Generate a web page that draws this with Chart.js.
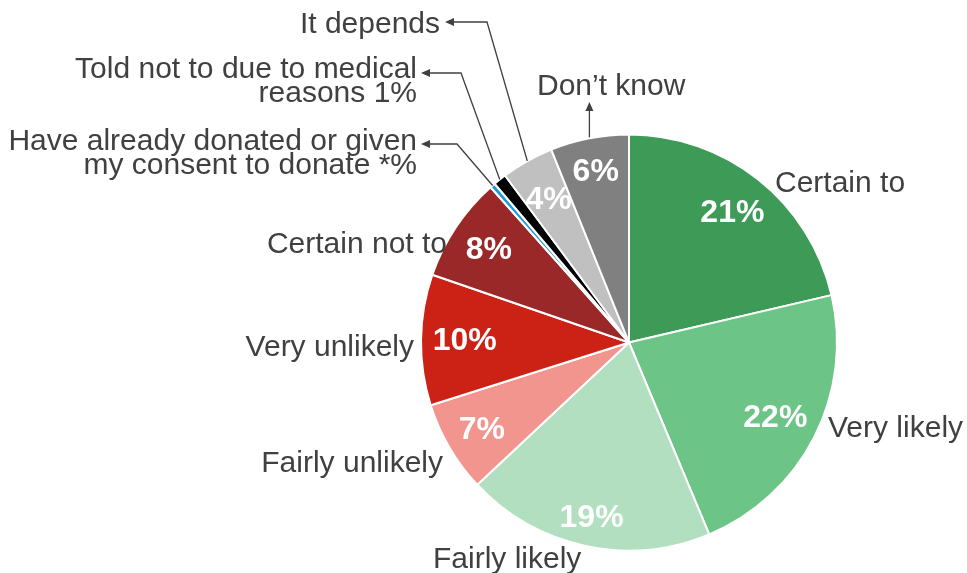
<!DOCTYPE html>
<html>
<head>
<meta charset="utf-8">
<title>Organ donation intentions</title>
<script src="https://cdn.jsdelivr.net/npm/chart.js@4.4.1/dist/chart.umd.min.js"></script>
<style>
  html, body { margin: 0; padding: 0; background: #ffffff; }
  #wrap { width: 967px; height: 573px; }
</style>
</head>
<body>
<div id="wrap"><canvas id="donationPie" width="967" height="573"></canvas></div>
<script>
// Answer categories, clockwise from 12 o'clock
const categories = [
    ['Certain to'],
    ['Very likely'],
    ['Fairly likely'],
    ['Fairly unlikely'],
    ['Very unlikely'],
    ['Certain not to'],
    ['Have already donated or given', 'my consent to donate *%'],
    ['Told not to due to medical', 'reasons 1%'],
    ['It depends'],
    ['Don\u2019t know']
];
// Share of respondents (%); "*" is below half a percent
const shares = [21, 22, 19, 7, 10, 8, 0.4, 1, 4, 6];
const sliceColors = ['#3e9a57', '#6cc486', '#b1dfbf', '#f2958e', '#cc2216', '#9a2829', '#1e9bd7', '#000000', '#c0c0c0', '#808080'];

// where the white percentage sits, as a fraction of the radius
const valueRadius = [0.80, 0.79, 0.86, 0.82, 0.79, 0.81, 0, 0, 0.79, 0.84];

// category text placement: x/y is the first baseline
const labelSpots = [
    { x: 775, y: 192, align: 'left' },
    { x: 828, y: 437, align: 'left' },
    { x: 433, y: 568, align: 'left' },
    { x: 443, y: 472, align: 'right' },
    { x: 414, y: 356, align: 'right' },
    { x: 447, y: 253, align: 'right' },
    { x: 417, y: 150, align: 'right', elbow: [457, 144], tip: [421, 144] },
    { x: 417, y: 78, align: 'right', elbow: [461, 73], tip: [421, 73] },
    { x: 440, y: 33, align: 'right', elbow: [487, 22], tip: [445, 22] },
    { x: 537, y: 95, align: 'left', upTo: 102 }
];

const FONT = '"Liberation Sans", Arial, Helvetica, sans-serif';
const TEXT_COLOR = '#404040';

function arrowHead(ctx, fromX, fromY, tipX, tipY) {
    const ang = Math.atan2(tipY - fromY, tipX - fromX);
    const len = 9, half = 4;
    ctx.beginPath();
    ctx.moveTo(tipX, tipY);
    ctx.lineTo(tipX - len * Math.cos(ang) + half * Math.sin(ang), tipY - len * Math.sin(ang) - half * Math.cos(ang));
    ctx.lineTo(tipX - len * Math.cos(ang) - half * Math.sin(ang), tipY - len * Math.sin(ang) + half * Math.cos(ang));
    ctx.closePath();
    ctx.fill();
}

const pieLabels = {
    id: 'pieLabels',
    afterDatasetsDraw(chart) {
        const ctx = chart.ctx;
        const meta = chart.getDatasetMeta(0);
        ctx.save();

        meta.data.forEach((arc, i) => {
            const { x, y, startAngle, endAngle, outerRadius } =
                arc.getProps(['x', 'y', 'startAngle', 'endAngle', 'outerRadius'], true);
            const mid = (startAngle + endAngle) / 2;
            const v = shares[i];

            // value inside the slice
            if (v >= 2) {
                const r = outerRadius * valueRadius[i];
                ctx.font = 'bold 32px ' + FONT;
                ctx.fillStyle = '#ffffff';
                ctx.textAlign = 'center';
                ctx.textBaseline = 'middle';
                ctx.fillText(v + '%', x + Math.cos(mid) * r, y + Math.sin(mid) * r + 1);
            }

            // category text
            const spot = labelSpots[i];
            ctx.font = '30px ' + FONT;
            ctx.fillStyle = TEXT_COLOR;
            ctx.textAlign = spot.align;
            ctx.textBaseline = 'alphabetic';
            categories[i].forEach((line, k) => {
                ctx.fillText(line, spot.x, spot.y + k * 24);
            });

            // leader lines with arrows pointing at the text
            ctx.strokeStyle = TEXT_COLOR;
            ctx.lineWidth = 1.3;
            const ex = x + Math.cos(mid) * outerRadius;
            const ey = y + Math.sin(mid) * outerRadius;
            if (spot.elbow) {
                ctx.beginPath();
                ctx.moveTo(ex, ey);
                ctx.lineTo(spot.elbow[0], spot.elbow[1]);
                ctx.lineTo(spot.tip[0] + 4, spot.tip[1]);
                ctx.stroke();
                arrowHead(ctx, spot.elbow[0], spot.elbow[1], spot.tip[0], spot.tip[1]);
            } else if (spot.upTo) {
                ctx.beginPath();
                ctx.moveTo(ex, ey - 1);
                ctx.lineTo(ex, spot.upTo + 4);
                ctx.stroke();
                arrowHead(ctx, ex, ey, ex, spot.upTo);
            }
        });
        ctx.restore();
    }
};

new Chart(document.getElementById('donationPie').getContext('2d'), {
    type: 'pie',
    data: {
        labels: categories.map(c => c.join(' ')),
        datasets: [{
            data: shares,
            backgroundColor: sliceColors,
            borderColor: '#ffffff',
            borderWidth: 2
        }]
    },
    options: {
        responsive: false,
        animation: false,
        layout: {
            padding: { left: 420, right: 129, top: 133.5, bottom: 21.5 }
        },
        plugins: {
            legend: { display: false },
            tooltip: { enabled: false }
        }
    },
    plugins: [pieLabels]
});
</script>
</body>
</html>
